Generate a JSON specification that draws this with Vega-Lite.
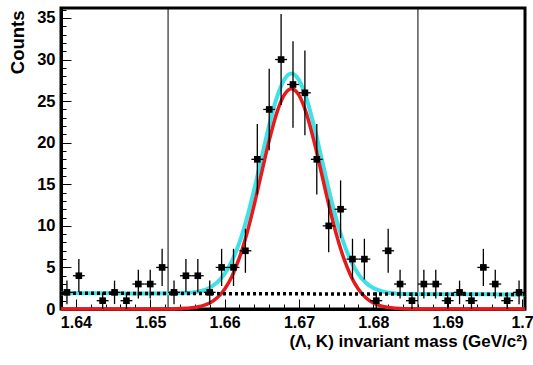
{
  "$schema": "https://vega.github.io/schema/vega-lite/v6.json",
  "autosize": "none",
  "width": 464,
  "height": 301,
  "padding": {"left": 61, "top": 8, "right": 8, "bottom": 56},
  "background": "white",
  "config": {
    "view": {"stroke": "black", "strokeWidth": 3},
    "axis": {
      "labelFont": "Liberation Sans", "labelFontWeight": "bold", "labelFontSize": 16, "labelColor": "black",
      "titleFont": "Liberation Sans", "titleFontWeight": "bold", "titleFontSize": 17, "titleColor": "black",
      "domainColor": "black", "domainWidth": 3, "tickColor": "black", "tickWidth": 1, "grid": false,
      "labelOverlap": false, "labelFlush": false, "labelBound": false
    }
  },
  "datasets": {
    "points": [
      {"x":1.6388,"n":2,"lo":0.586,"hi":3.414,"xlo":1.6380,"xhi":1.6396},
      {"x":1.6404,"n":4,"lo":2,"hi":6,"xlo":1.6396,"xhi":1.6412},
      {"x":1.6436,"n":1,"lo":0,"hi":2,"xlo":1.6428,"xhi":1.6444},
      {"x":1.6452,"n":2,"lo":0.586,"hi":3.414,"xlo":1.6444,"xhi":1.6460},
      {"x":1.6468,"n":1,"lo":0,"hi":2,"xlo":1.6460,"xhi":1.6476},
      {"x":1.6484,"n":3,"lo":1.268,"hi":4.732,"xlo":1.6476,"xhi":1.6492},
      {"x":1.6500,"n":3,"lo":1.268,"hi":4.732,"xlo":1.6492,"xhi":1.6508},
      {"x":1.6516,"n":5,"lo":2.764,"hi":7.236,"xlo":1.6508,"xhi":1.6524},
      {"x":1.6532,"n":2,"lo":0.586,"hi":3.414,"xlo":1.6524,"xhi":1.6540},
      {"x":1.6548,"n":4,"lo":2,"hi":6,"xlo":1.6540,"xhi":1.6556},
      {"x":1.6564,"n":4,"lo":2,"hi":6,"xlo":1.6556,"xhi":1.6572},
      {"x":1.6580,"n":2,"lo":0.586,"hi":3.414,"xlo":1.6572,"xhi":1.6588},
      {"x":1.6596,"n":5,"lo":2.764,"hi":7.236,"xlo":1.6588,"xhi":1.6604},
      {"x":1.6612,"n":5,"lo":2.764,"hi":7.236,"xlo":1.6604,"xhi":1.6620},
      {"x":1.6628,"n":7,"lo":4.354,"hi":9.646,"xlo":1.6620,"xhi":1.6636},
      {"x":1.6644,"n":18,"lo":13.757,"hi":22.243,"xlo":1.6636,"xhi":1.6652},
      {"x":1.6660,"n":24,"lo":19.101,"hi":28.899,"xlo":1.6652,"xhi":1.6668},
      {"x":1.6676,"n":30,"lo":24.523,"hi":35.477,"xlo":1.6668,"xhi":1.6684},
      {"x":1.6692,"n":27,"lo":21.804,"hi":32.196,"xlo":1.6684,"xhi":1.6700},
      {"x":1.6708,"n":26,"lo":20.901,"hi":31.099,"xlo":1.6700,"xhi":1.6716},
      {"x":1.6724,"n":18,"lo":13.757,"hi":22.243,"xlo":1.6716,"xhi":1.6732},
      {"x":1.6740,"n":10,"lo":6.838,"hi":13.162,"xlo":1.6732,"xhi":1.6748},
      {"x":1.6756,"n":12,"lo":8.536,"hi":15.464,"xlo":1.6748,"xhi":1.6764},
      {"x":1.6772,"n":6,"lo":3.551,"hi":8.449,"xlo":1.6764,"xhi":1.6780},
      {"x":1.6788,"n":6,"lo":3.551,"hi":8.449,"xlo":1.6780,"xhi":1.6796},
      {"x":1.6804,"n":1,"lo":0,"hi":2,"xlo":1.6796,"xhi":1.6812},
      {"x":1.6820,"n":7,"lo":4.354,"hi":9.646,"xlo":1.6812,"xhi":1.6828},
      {"x":1.6836,"n":3,"lo":1.268,"hi":4.732,"xlo":1.6828,"xhi":1.6844},
      {"x":1.6852,"n":1,"lo":0,"hi":2,"xlo":1.6844,"xhi":1.6860},
      {"x":1.6868,"n":3,"lo":1.268,"hi":4.732,"xlo":1.6860,"xhi":1.6876},
      {"x":1.6884,"n":3,"lo":1.268,"hi":4.732,"xlo":1.6876,"xhi":1.6892},
      {"x":1.6900,"n":1,"lo":0,"hi":2,"xlo":1.6892,"xhi":1.6908},
      {"x":1.6916,"n":2,"lo":0.586,"hi":3.414,"xlo":1.6908,"xhi":1.6924},
      {"x":1.6932,"n":1,"lo":0,"hi":2,"xlo":1.6924,"xhi":1.6940},
      {"x":1.6948,"n":5,"lo":2.764,"hi":7.236,"xlo":1.6940,"xhi":1.6956},
      {"x":1.6964,"n":3,"lo":1.268,"hi":4.732,"xlo":1.6956,"xhi":1.6972},
      {"x":1.6980,"n":1,"lo":0,"hi":2,"xlo":1.6972,"xhi":1.6988},
      {"x":1.6996,"n":2,"lo":0.586,"hi":3.414,"xlo":1.6988,"xhi":1.7004}
    ],
    "curves": [
      {"x":1.638,"sig":0,"tot":1.90,"bg":1.90},
      {"x":1.645,"sig":0,"tot":1.88,"bg":1.883},
      {"x":1.650,"sig":0,"tot":1.87,"bg":1.871},
      {"x":1.653,"sig":0.013,"tot":1.88,"bg":1.864},
      {"x":1.655,"sig":0.08,"tot":1.94,"bg":1.859},
      {"x":1.656,"sig":0.17,"tot":2.03,"bg":1.857},
      {"x":1.657,"sig":0.37,"tot":2.22,"bg":1.854},
      {"x":1.658,"sig":0.72,"tot":2.57,"bg":1.852},
      {"x":1.659,"sig":1.35,"tot":3.20,"bg":1.850},
      {"x":1.660,"sig":2.38,"tot":4.23,"bg":1.847},
      {"x":1.661,"sig":3.95,"tot":5.80,"bg":1.845},
      {"x":1.662,"sig":6.17,"tot":8.01,"bg":1.842},
      {"x":1.663,"sig":9.08,"tot":10.92,"bg":1.840},
      {"x":1.664,"sig":12.60,"tot":14.44,"bg":1.838},
      {"x":1.665,"sig":16.46,"tot":18.30,"bg":1.835},
      {"x":1.666,"sig":20.28,"tot":22.11,"bg":1.833},
      {"x":1.667,"sig":23.53,"tot":25.36,"bg":1.830},
      {"x":1.668,"sig":25.72,"tot":27.55,"bg":1.828},
      {"x":1.669,"sig":26.50,"tot":28.33,"bg":1.826},
      {"x":1.670,"sig":25.72,"tot":27.54,"bg":1.823},
      {"x":1.671,"sig":23.53,"tot":25.35,"bg":1.821},
      {"x":1.672,"sig":20.28,"tot":22.10,"bg":1.818},
      {"x":1.673,"sig":16.46,"tot":18.28,"bg":1.816},
      {"x":1.674,"sig":12.60,"tot":14.41,"bg":1.814},
      {"x":1.675,"sig":9.08,"tot":10.89,"bg":1.811},
      {"x":1.676,"sig":6.17,"tot":7.98,"bg":1.809},
      {"x":1.677,"sig":3.95,"tot":5.76,"bg":1.806},
      {"x":1.678,"sig":2.38,"tot":4.18,"bg":1.804},
      {"x":1.679,"sig":1.35,"tot":3.15,"bg":1.802},
      {"x":1.680,"sig":0.72,"tot":2.52,"bg":1.799},
      {"x":1.681,"sig":0.37,"tot":2.17,"bg":1.797},
      {"x":1.682,"sig":0.17,"tot":1.96,"bg":1.794},
      {"x":1.683,"sig":0.08,"tot":1.87,"bg":1.792},
      {"x":1.685,"sig":0.013,"tot":1.80,"bg":1.787},
      {"x":1.690,"sig":0,"tot":1.775,"bg":1.775},
      {"x":1.695,"sig":0,"tot":1.763,"bg":1.763},
      {"x":1.7004,"sig":0,"tot":1.75,"bg":1.75}
    ],
    "cuts": [{"x":1.6524},{"x":1.686}]
  },
  "encoding": {
    "x": {
      "field": "x", "type": "quantitative",
      "title": "(Λ, K) invariant mass (GeV/c²)",
      "scale": {"domain": [1.638, 1.7004], "nice": false, "zero": false},
      "axis": {
        "values": [1.640,1.642,1.644,1.646,1.648,1.650,1.652,1.654,1.656,1.658,1.660,1.662,1.664,1.666,1.668,1.670,1.672,1.674,1.676,1.678,1.680,1.682,1.684,1.686,1.688,1.690,1.692,1.694,1.696,1.698,1.700],
        "labelExpr": "abs(datum.value*100 - round(datum.value*100)) < 0.01 ? '' + round(datum.value*100)/100 : ''",
        "tickSize": {"condition": {"test": "abs(datum.value*100 - round(datum.value*100)) < 0.01", "value": -10}, "value": -5},
        "labelPadding": 15,
        "labelOverlap": false,
        "titleAnchor": "end",
        "titleAlign": "right",
        "titleBaseline": "alphabetic",
        "titleX": 466,
        "titleY": 37
      }
    },
    "y": {
      "field": "n", "type": "quantitative",
      "title": "Counts",
      "scale": {"domain": [0, 36.2], "nice": false},
      "axis": {
        "values": [0,1,2,3,4,5,6,7,8,9,10,11,12,13,14,15,16,17,18,19,20,21,22,23,24,25,26,27,28,29,30,31,32,33,34,35,36],
        "labelExpr": "datum.value % 5 === 0 ? '' + datum.value : ''",
        "labelFontSize": {"condition": {"test": "datum.value % 5 === 0", "value": 16.5}, "value": 1},
        "tickSize": {"condition": {"test": "datum.value % 5 === 0", "value": -10}, "value": -5},
        "labelPadding": 16,
        "labelOverlap": false,
        "titleFontSize": 18.5,
        "titleAnchor": "end",
        "titleAlign": "right",
        "titleBaseline": "middle",
        "titleAngle": -90,
        "titleX": -44,
        "titleY": 2
      }
    }
  },
  "layer": [
    {
      "data": {"name": "cuts"},
      "mark": {"type": "rule", "color": "black", "strokeWidth": 1},
      "encoding": {"y": null}
    },
    {
      "data": {"name": "curves"},
      "mark": {"type": "line", "color": "#3fe0e6", "strokeWidth": 4, "interpolate": "monotone"},
      "encoding": {"y": {"field": "tot", "type": "quantitative", "title": "Counts"}}
    },
    {
      "data": {"name": "curves"},
      "mark": {"type": "line", "color": "#e41a1c", "strokeWidth": 3.5, "interpolate": "monotone"},
      "encoding": {"y": {"field": "sig", "type": "quantitative", "title": "Counts"}}
    },
    {
      "data": {"name": "curves"},
      "mark": {"type": "line", "color": "black", "strokeWidth": 3.5, "strokeDash": [3, 3]},
      "encoding": {"y": {"field": "bg", "type": "quantitative", "title": "Counts"}}
    },
    {
      "data": {"name": "points"},
      "mark": {"type": "rule", "color": "black", "strokeWidth": 1.3},
      "encoding": {
        "y": {"field": "lo", "type": "quantitative", "title": "Counts"},
        "y2": {"field": "hi"}
      }
    },
    {
      "data": {"name": "points"},
      "mark": {"type": "rule", "color": "black", "strokeWidth": 1.3},
      "encoding": {
        "x": {"field": "xlo", "type": "quantitative", "title": "(Λ, K) invariant mass (GeV/c²)"},
        "x2": {"field": "xhi"}
      }
    },
    {
      "data": {"name": "points"},
      "mark": {"type": "point", "shape": "square", "filled": true, "color": "black", "size": 44, "opacity": 1},
      "encoding": {}
    }
  ]
}
